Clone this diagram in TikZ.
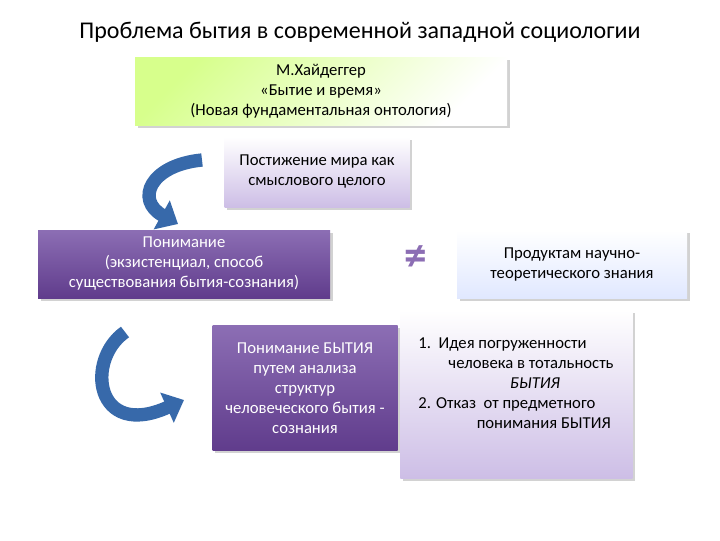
\documentclass[tikz,border=0pt]{standalone}
\usepackage{fontspec}
\setmainfont{Carlito}
\usetikzlibrary{arrows.meta,shadows}
\definecolor{pdark}{RGB}{96,60,140}
\definecolor{pmid}{RGB}{140,110,180}
\definecolor{plight}{RGB}{205,190,230}
\definecolor{arrblue}{RGB}{55,105,170}
\begin{document}
\begin{tikzpicture}[x=0.75pt,y=-0.75pt,
  box/.style={draw=none,inner sep=2pt,align=center,font=\fontsize{12.5}{15}\selectfont,drop shadow={shadow xshift=2pt,shadow yshift=-2pt,opacity=0.35}},
  curv/.style={arrblue,line width=10pt,-{Triangle[width=24pt,length=14pt]},draw=arrblue}]
\useasboundingbox (0,0) rectangle (720,540);
\fill[white] (0,0) rectangle (720,540);
\node (title) at (360,32) {\fontsize{18}{21}\selectfont Проблема бытия в современной западной социологии};
\node[box,minimum width=372*0.75pt,minimum height=68*0.75pt,left color=green!35!yellow!45,right color=white,shading angle=45] (b1) at (321,91) {М.Хайдеггер\\«Бытие и время»\\(Новая фундаментальная онтология)};
\node[box,minimum width=185*0.75pt,minimum height=70*0.75pt,top color=white,bottom color=plight] (b2) at (317,172) {Постижение мира как\\смыслового целого};
\node[box,minimum width=292*0.75pt,minimum height=68*0.75pt,top color=pmid,bottom color=pdark,text=white] (b3) at (184,264) {Понимание\\(экзистенциал, способ\\существования бытия-сознания)};
\node[text=pmid,font=\fontsize{34}{34}\selectfont\bfseries] (ne) at (416,258) {≠};
\node[box,minimum width=230*0.75pt,minimum height=68*0.75pt,top color=white,bottom color=cyan!25!blue!12] (b4) at (572,264) {Продуктам научно-\\теоретического знания};
\node[box,minimum width=185*0.75pt,minimum height=125*0.75pt,top color=pmid,bottom color=pdark,text=white] (b5) at (305,388) {Понимание БЫТИЯ\\путем анализа\\структур\\человеческого бытия -\\сознания};
\node[box,minimum width=232*0.75pt,minimum height=168*0.75pt,top color=white,bottom color=plight,anchor=north west] (b6) at (400,310) {\phantom{x}};
\node[align=left,font=\fontsize{12.5}{15}\selectfont,anchor=north] (t6) at (516,333) {1.\ \ Идея погруженности\\\hspace*{1.8em}человека в тотальность\\\hspace*{5.5em}\textit{БЫТИЯ}\\2. Отказ\ \ от предметного\\\hspace*{3.5em}понимания БЫТИЯ};
\coordinate (a1s) at (202,160);
\coordinate (a1e) at (178,224);
\draw[curv] (a1s) .. controls (150,165) and (135,200) .. (a1e);
\coordinate (a2s) at (125,332);
\coordinate (a2e) at (184,400);
\draw[curv] (a2s) .. controls (85,360) and (95,440) .. (a2e);
\end{tikzpicture}
\end{document}
